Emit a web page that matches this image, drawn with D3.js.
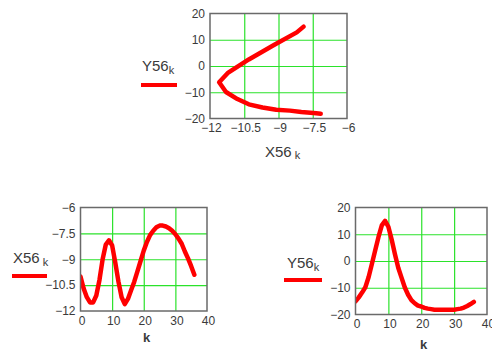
<!DOCTYPE html>
<html>
<head>
<meta charset="utf-8">
<script src="https://cdn.jsdelivr.net/npm/d3@7"></script>
<style>
  body { margin: 0; background: #fff; }
  text { font-family: "Liberation Sans", Arial, sans-serif; }
</style>
</head>
<body>
<script>
// sample index
const k = [0, 1, 2, 3, 4, 5, 6, 7, 8, 9, 10, 11, 12, 13, 14, 15, 16, 17, 18,
           19, 20, 21, 22, 23, 24, 25, 26, 27, 28, 29, 30, 31, 32, 33, 34, 35, 36];

const X56 = [-10.0, -10.7, -11.2, -11.5, -11.5, -11.1, -10.2, -9.0, -8.15, -7.9,
             -8.2, -9.2, -10.3, -11.2, -11.6, -11.3, -10.8, -10.3, -9.7, -9.1,
             -8.5, -8.0, -7.6, -7.35, -7.15, -7.05, -7.05, -7.1, -7.2, -7.35,
             -7.55, -7.8, -8.1, -8.55, -8.95, -9.4, -9.9];

const Y56 = [-15.1, -13.6, -11.8, -9.8, -6.0, -1.0, 4.0, 9.0, 13.3, 15.0,
             12.8, 8.0, 2.5, -2.5, -6.2, -9.9, -12.6, -14.6, -15.8, -16.7,
             -17.0, -17.5, -17.8, -18.0, -18.2, -18.2, -18.2, -18.2, -18.2, -18.2,
             -18.2, -18.0, -17.8, -17.4, -16.8, -16.1, -15.3];

// k range shown in the X-Y plot
const kFrom = 9, kTo = 24;

const kTicks = [0, 10, 20, 30, 40];
const xTicks = [-12, -10.5, -9, -7.5, -6];
const yTicks = [-20, -10, 0, 10, 20];

const GRID = "#2be22b";
const RED = "#ff0000";
const INK = "#3a3a3a";

const svg = d3.select("body").append("svg")
  .attr("width", 492).attr("height", 349);

let clipId = 0;

// grid only inside the frame
const inner = t => t.slice(1, -1);

function panel(o) {
  const x = d3.scaleLinear().domain(o.xDomain).range([o.left, o.right]);
  const y = d3.scaleLinear().domain(o.yDomain).range([o.bottom, o.top]);
  const w = o.right - o.left, h = o.bottom - o.top;
  const g = svg.append("g");

  // grid
  g.append("g")
    .attr("transform", `translate(0,${o.bottom})`)
    .call(d3.axisBottom(x).tickValues(inner(o.xTicks)).tickSize(-h).tickFormat(""))
    .call(s => {
      s.select(".domain").remove();
      s.selectAll("line").attr("stroke", GRID).attr("stroke-width", 1.2);
    });
  g.append("g")
    .attr("transform", `translate(${o.left},0)`)
    .call(d3.axisLeft(y).tickValues(inner(o.yTicks)).tickSize(-w).tickFormat(""))
    .call(s => {
      s.select(".domain").remove();
      s.selectAll("line").attr("stroke", GRID).attr("stroke-width", 1.2);
    });

  // curve
  const id = "clip" + (clipId++);
  g.append("clipPath").attr("id", id)
    .append("rect").attr("x", o.left).attr("y", o.top)
    .attr("width", w).attr("height", h);

  const line = d3.line()
    .x(i => x(o.xs[i]))
    .y(i => y(o.ys[i]));

  g.append("path")
    .datum(o.idx)
    .attr("clip-path", `url(#${id})`)
    .attr("fill", "none")
    .attr("stroke", RED)
    .attr("stroke-width", 4.5)
    .attr("stroke-linejoin", "round")
    .attr("stroke-linecap", "round")
    .attr("d", line);

  // frame
  g.append("rect")
    .attr("x", o.left).attr("y", o.top)
    .attr("width", w).attr("height", h)
    .attr("fill", "none").attr("stroke", "#6a6a6a").attr("stroke-width", 1.5);

  // tick labels
  g.append("g")
    .attr("transform", `translate(1,${o.bottom})`)
    .call(d3.axisBottom(x).tickValues(o.xTicks).tickSize(0).tickPadding(5)
      .tickFormat(d3.format("")))
    .call(s => {
      s.select(".domain").remove();
      s.selectAll("text").attr("font-size", 12).attr("fill", INK)
        .attr("font-family", "Liberation Sans, Arial, sans-serif");
    });
  g.append("g")
    .attr("transform", `translate(${o.left},0)`)
    .call(d3.axisLeft(y).tickValues(o.yTicks).tickSize(0).tickPadding(5)
      .tickFormat(d3.format("")))
    .call(s => {
      s.select(".domain").remove();
      s.selectAll("text").attr("font-size", 12).attr("fill", INK)
        .attr("font-family", "Liberation Sans, Arial, sans-serif");
    });

  // y legend
  const ly = g.append("text")
    .attr("x", o.leg.x).attr("y", o.leg.y)
    .attr("font-size", 15).attr("fill", INK)
    .text(o.leg.name);
  ly.append("tspan").attr("dy", 3).attr("dx", o.leg.gap)
    .attr("font-size", 11).text("k");
  g.append("line")
    .attr("x1", o.leg.x1).attr("x2", o.leg.x2)
    .attr("y1", o.leg.ly).attr("y2", o.leg.ly)
    .attr("stroke", RED).attr("stroke-width", 4);

  // x title
  const tx = g.append("text")
    .attr("x", o.xt.x).attr("y", o.xt.y)
    .attr("fill", INK)
    .attr("font-size", o.xt.size);
  if (o.xt.name) {
    tx.text(o.xt.name);
    tx.append("tspan").attr("dy", 2).attr("dx", 3)
      .attr("font-size", 11).text("k");
  } else {
    tx.attr("font-weight", "bold").text("k");
  }
}

const allIdx = k.map((d, i) => i);
const partIdx = allIdx.filter(i => k[i] >= kFrom && k[i] <= kTo);

// Y56 against X56
panel({
  left: 210, right: 347, top: 13.5, bottom: 118.5,
  xDomain: [-12, -6], yDomain: [-20, 20],
  xTicks: xTicks, yTicks: yTicks,
  xs: X56, ys: Y56, idx: partIdx,
  leg: { name: "Y56", x: 142, y: 71, gap: 0, x1: 141, x2: 177, ly: 85 },
  xt: { name: "X56", x: 265, y: 157, size: 15 }
});

// X56 against k
panel({
  left: 80.5, right: 207, top: 207.5, bottom: 311,
  xDomain: [0, 40], yDomain: [-12, -6],
  xTicks: kTicks, yTicks: xTicks,
  xs: k, ys: X56, idx: allIdx,
  leg: { name: "X56", x: 13, y: 263, gap: 3, x1: 12, x2: 47, ly: 276 },
  xt: { name: null, x: 143, y: 342, size: 13 }
});

// Y56 against k
panel({
  left: 355.5, right: 487, top: 207.5, bottom: 314.5,
  xDomain: [0, 40], yDomain: [-20, 20],
  xTicks: kTicks, yTicks: yTicks,
  xs: k, ys: Y56, idx: allIdx,
  leg: { name: "Y56", x: 287, y: 268, gap: 0, x1: 284, x2: 322, ly: 280 },
  xt: { name: null, x: 420, y: 349, size: 13 }
});
</script>
</body>
</html>
